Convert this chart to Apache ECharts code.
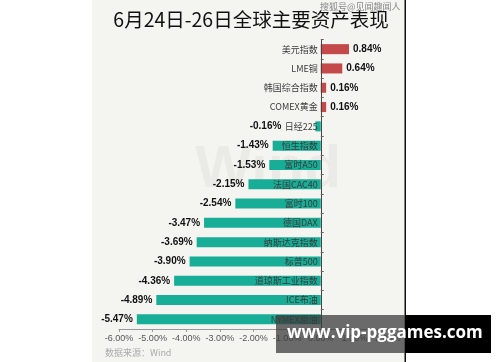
<!DOCTYPE html>
<html><head><meta charset="utf-8">
<script src="https://cdn.jsdelivr.net/npm/echarts@6/dist/echarts.min.js"></script>
<style>html,body{margin:0;padding:0;background:#fff}#c{width:500px;height:362px}</style>
</head><body><div id="c"></div>
<script>
const categories = ['美元指数','LME铜','韩国综合指数','COMEX黄金','日经225','恒生指数','富时A50','法国CAC40','富时100','德国DAX','纳斯达克指数','标普500','道琼斯工业指数','ICE布油','NYMEX原油'];
const values = [0.84, 0.64, 0.16, 0.16, -0.16, -1.43, -1.53, -2.15, -2.54, -3.47, -3.69, -3.90, -4.36, -4.89, -5.47];
const xTicks = [-6, -5, -4, -3, -2, -1, 0, 1, 2];
const titleText = '6月24日-26日全球主要资产表现';
const sourceText = '数据来源：Wind';

const gridLeft = 119, gridRight = 112, W = 500;
const unit = (W - gridLeft - gridRight) / (xTicks[xTicks.length-1] - xTicks[0]);
const zeroOffset = -(0 - xTicks[0]) * unit;

const chart = echarts.init(document.getElementById('c'), null, {renderer:'canvas'});
const data = values.map((v, i) => {
  const item = {
    value: v,
    itemStyle: { color: v >= 0 ? '#c44a4a' : '#17ad96' },
    label: { position: v >= 0 ? 'right' : 'left' }
  };
  if (categories[i] === '日经225') item.label.offset = [-30, 0];
  return item;
});
chart.setOption({
  animation: false,
  backgroundColor: '#ffffff',
  title: {
    text: titleText, left: 246, top: 5, textAlign: 'center',
    textStyle: { fontFamily: 'Noto Sans CJK SC', fontSize: 19.5, fontWeight: 'normal', color: '#111' }
  },
  grid: { left: gridLeft, right: gridRight, top: 39.5, bottom: 33, containLabel: false },
  xAxis: {
    type: 'value', min: xTicks[0], max: xTicks[xTicks.length-1], interval: 1,
    splitLine: { show: false },
    axisLine: { show: true, lineStyle: { color: '#999', width: 1 } },
    axisTick: { show: true, length: 3, lineStyle: { color: '#999' } },
    axisLabel: { formatter: v => v.toFixed(2) + '%', color: '#555', fontSize: 9, fontFamily: 'Liberation Sans', margin: 5 }
  },
  yAxis: {
    type: 'category', data: categories, inverse: true, offset: zeroOffset,
    axisLine: { show: true, onZero: false, lineStyle: { color: '#444', width: 1 } },
    axisTick: { show: true, inside: true, length: 3, lineStyle: { color: '#666' } },
    axisLabel: { color: '#3a3a3a', fontSize: 9, fontFamily: 'Noto Sans CJK SC', margin: 3 },
    z: 5
  },
  series: [{
    type: 'bar', data: data, barWidth: '52%',
    label: {
      show: true, distance: 4, formatter: p => p.value.toFixed(2) + '%',
      color: '#111', fontSize: 10, fontWeight: 'bold', fontFamily: 'Liberation Sans'
    },
    z: 2
  }],
  graphic: [
    { type: 'rect', z: -10, silent: true, shape: { x: 92, y: 0, width: 313, height: 362 }, style: { fill: '#f4f4f1' } },
    { type: 'text', z: -5, silent: true, left: 195, top: 140, style: { text: 'Wind', fill: 'rgba(0,0,0,0.04)', font: 'bold 60px Liberation Sans' } },
    { type: 'text', z: 100, silent: true, left: 320, top: 2, style: { text: '搜狐号@见闻趣闻人', fill: '#888', font: '9px Noto Sans CJK SC' } },
    { type: 'text', z: 100, silent: true, left: 105, top: 348, style: { text: sourceText, fill: '#aaa', font: '9px Noto Sans CJK SC' } },
    { type: 'rect', z: 100, silent: true, shape: { x: 404.5, y: 0, width: 1.5, height: 362 }, style: { fill: '#111' } },
    { type: 'rect', z: 101, silent: true, shape: { x: 276, y: 315, width: 129, height: 38 }, style: { fill: 'rgba(60,60,60,0.75)' } },
    { type: 'rect', z: 101, silent: true, shape: { x: 405, y: 315, width: 86, height: 38 }, style: { fill: '#000' } },
    { type: 'text', z: 102, silent: true, left: 287, top: 325, style: { text: 'www.vip-pggames.com', fill: '#fff', font: 'bold 17px Open Sans' } }
  ]
});
</script></body></html>
